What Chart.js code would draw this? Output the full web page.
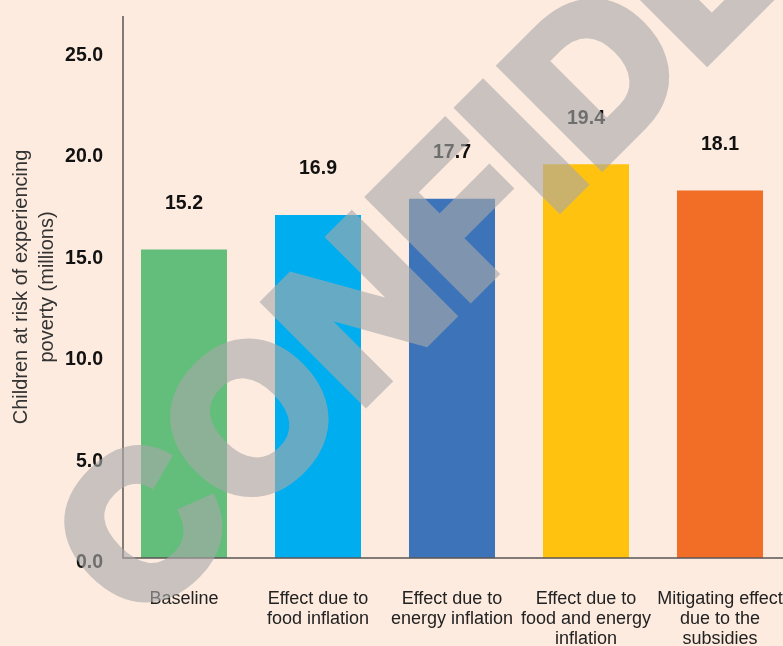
<!DOCTYPE html>
<html>
<head>
<meta charset="utf-8">
<script src="https://cdn.jsdelivr.net/npm/chart.js@4"></script>
<style>
  html, body { margin:0; padding:0; background:#FDEBDF; overflow:hidden; }
  #wrap { width:795px; height:646px; position:relative; }
</style>
</head>
<body>
<div id="wrap"><canvas id="c"></canvas></div>
<script>
const categories = [
  'Baseline',
  ['Effect due to', 'food inflation'],
  ['Effect due to', 'energy inflation'],
  ['Effect due to', 'food and energy', 'inflation'],
  ['Mitigating effect', 'due to the', 'subsidies']
];
const values = [15.2, 16.9, 17.7, 19.4, 18.1];
const barColors = ['#63BE7B', '#00AEEF', '#3D74B9', '#FFC20E', '#F26D25'];
const yTitle = ['Children at risk of experiencing', 'poverty (millions)'];
const watermark = 'CONFIDENTIAL';

const axisLines = {
  id: 'axisLines',
  afterDatasetsDraw(chart) {
    const ctx = chart.ctx, a = chart.chartArea;
    ctx.save();
    ctx.strokeStyle = '#5a5656';
    ctx.lineWidth = 1.5;
    ctx.beginPath();
    ctx.moveTo(a.left + 6, a.top);
    ctx.lineTo(a.left + 6, a.bottom);
    ctx.lineTo(chart.width, a.bottom);
    ctx.stroke();
    ctx.restore();
  }
};

const valueLabels = {
  id: 'valueLabels',
  afterDatasetsDraw(chart) {
    const ctx = chart.ctx;
    const meta = chart.getDatasetMeta(0);
    ctx.save();
    ctx.font = 'bold 19.5px "Liberation Sans", Arial, sans-serif';
    ctx.fillStyle = '#111';
    ctx.textAlign = 'center';
    ctx.textBaseline = 'middle';
    meta.data.forEach((bar, i) => {
      ctx.fillText(values[i].toFixed(1), bar.x, bar.y - 46);
    });
    ctx.restore();
  }
};

const watermarkPlugin = {
  id: 'watermark',
  afterDraw(chart) {
    const ctx = chart.ctx;
    const off = document.createElement('canvas');
    off.width = chart.width; off.height = chart.height;
    const o = off.getContext('2d');
    o.translate(138.6, 626.5);
    o.rotate(-Math.PI / 4);
    o.font = 'bold 200px "Liberation Sans", Arial, sans-serif';
    try { o.letterSpacing = '4px'; } catch (e) {}
    o.fillStyle = 'rgb(169,169,169)';
    o.strokeStyle = 'rgb(169,169,169)';
    o.lineWidth = 13;
    o.lineJoin = 'miter';
    o.textAlign = 'left';
    o.textBaseline = 'alphabetic';
    o.fillText(watermark, 0, 0);
    o.strokeText(watermark, 0, 0);
    ctx.save();
    ctx.globalAlpha = 0.61;
    ctx.drawImage(off, 0, 0);
    ctx.restore();
  }
};

new Chart(document.getElementById('c'), {
  type: 'bar',
  data: {
    labels: categories,
    datasets: [{
      data: values,
      backgroundColor: barColors,
      borderWidth: 0,
      barPercentage: 0.642,
      categoryPercentage: 1.0
    }]
  },
  options: {
    responsive: true,
    maintainAspectRatio: false,
    animation: false,
    events: [],
    layout: { padding: { top: 16, right: 8, left: 0, bottom: 0 } },
    plugins: { legend: { display: false }, tooltip: { enabled: false } },
    scales: {
      x: {
        grid: { display: false, drawTicks: false },
        border: { display: false },
        ticks: {
          color: '#222',
          font: { family: '"Liberation Sans", Arial, sans-serif', size: 18, lineHeight: 1.12 },
          padding: 31,
          maxRotation: 0,
          autoSkip: false
        },
        afterFit(s) { s.height = 88; s.paddingLeft = 0; s.paddingRight = 0; }
      },
      y: {
        min: 0,
        max: 26.7,
        grid: { display: false, drawTicks: false },
        border: { display: false },
        ticks: {
          stepSize: 5,
          includeBounds: false,
          color: '#111',
          padding: 14,
          labelOffset: 5,
          font: { family: '"Liberation Sans", Arial, sans-serif', size: 19.5, weight: 'bold' },
          callback: v => Number(v).toFixed(1)
        },
        title: {
          display: true,
          text: yTitle,
          color: '#333',
          padding: { top: 8, bottom: 0 },
          font: { family: '"Liberation Sans", Arial, sans-serif', size: 20, lineHeight: 1.3 }
        },
        afterFit(s) { s.width = 117; s.paddingTop = 0; s.paddingBottom = 0; }
      }
    }
  },
  plugins: [axisLines, valueLabels, watermarkPlugin]
});
</script>
</body>
</html>
